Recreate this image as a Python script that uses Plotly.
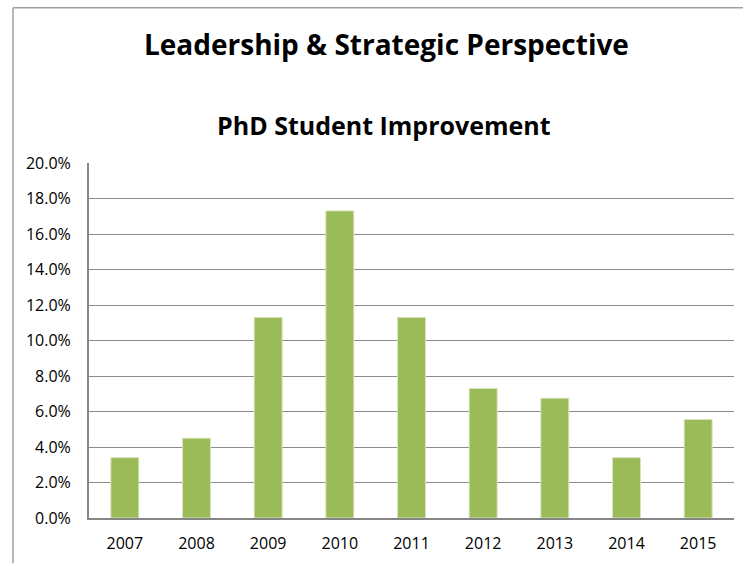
import plotly.graph_objects as go

years = ["2007", "2008", "2009", "2010", "2011", "2012", "2013", "2014", "2015"]
improvement = [0.034, 0.045, 0.113, 0.173, 0.113, 0.073, 0.0675, 0.034, 0.0555]
y_ticks = [0.0, 0.02, 0.04, 0.06, 0.08, 0.10, 0.12, 0.14, 0.16, 0.18, 0.20]
y_tick_labels = ["0.0%", "2.0%", "4.0%", "6.0%", "8.0%", "10.0%", "12.0%", "14.0%", "16.0%", "18.0%", "20.0%"]

W, H = 753, 566
ml, mr, mt, mb = 89, 19, 163, 42

fig = go.Figure()
fig.add_trace(go.Bar(
    x=years, y=improvement,
    marker=dict(color="#9BBB59", line=dict(color="#D7E4BD", width=1)),
    width=0.39,
))

def px_x(x):
    return (x - ml) / (W - ml - mr)

def px_y(y):
    return (H - mb - y) / (H - mt - mb)

fig.update_layout(
    width=W, height=H,
    margin=dict(l=ml, r=mr, t=mt, b=mb),
    paper_bgcolor="white", plot_bgcolor="white",
    showlegend=False,
    font=dict(family="Open Sans, Carlito, Calibri, sans-serif", color="#000000", size=16),
    xaxis=dict(
        showgrid=False, showline=True, linecolor="#868686", linewidth=2,
        ticks="", tickfont=dict(size=16), ticklabelstandoff=10,
    ),
    yaxis=dict(
        range=[0, 0.2], tickvals=y_ticks, ticktext=y_tick_labels,
        showgrid=True, gridcolor="#8C8C8C", gridwidth=1.3,
        showline=True, linecolor="#868686", linewidth=2,
        ticks="", tickfont=dict(size=16), ticklabelstandoff=13,
        zeroline=False,
    ),
    annotations=[
        dict(text="<b>Leadership & Strategic Perspective</b>", xref="paper", yref="paper",
             x=px_x(386), y=px_y(42), xanchor="center", yanchor="middle", showarrow=False,
             font=dict(size=28)),
        dict(text="<b>PhD Student Improvement</b>", xref="paper", yref="paper",
             x=px_x(384), y=px_y(124), xanchor="center", yanchor="middle", showarrow=False,
             font=dict(size=25)),
    ],
    shapes=[
        dict(type="line", xref="paper", yref="paper", x0=px_x(13), x1=px_x(743),
             y0=px_y(5), y1=px_y(5), line=dict(color="#A0A0A0", width=1.5)),
        dict(type="line", xref="paper", yref="paper", x0=px_x(13), x1=px_x(13),
             y0=px_y(5), y1=px_y(570), line=dict(color="#A0A0A0", width=1.5)),
    ],
)

fig.write_html("out.html", config={"displayModeBar": False},
               post_script="document.body.style.margin='0px';document.body.style.overflow='hidden';")
